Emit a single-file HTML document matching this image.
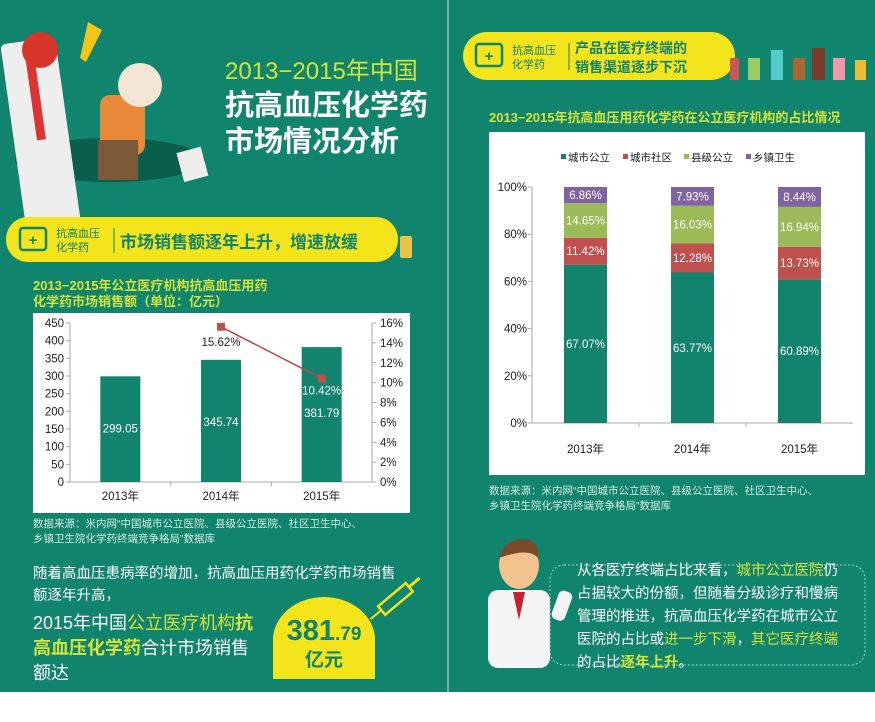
<!DOCTYPE html>
<html><head><meta charset="utf-8">
<style>
html,body{margin:0;padding:0;width:875px;height:722px;overflow:hidden;background:#fff;}
svg{display:block;font-family:"Liberation Sans","Noto Sans CJK SC",sans-serif;}
</style></head>
<body>
<svg id="root" width="875" height="722" viewBox="0 0 875 722" xmlns="http://www.w3.org/2000/svg">
<rect x="0" y="0" width="875" height="692" fill="#10846d"/>
<line x1="448" y1="0" x2="448" y2="692" stroke="#cfe3dc" stroke-width="1"/>

<g>
  <ellipse cx="110" cy="160" rx="95" ry="22" fill="#0b5e4c"/>
  <rect x="14" y="40" width="55" height="210" rx="5" fill="#eee" transform="rotate(-8 40 140)"/>
  <rect x="37" y="50" width="9" height="90" fill="#d33" transform="rotate(-8 40 140)"/>
  <circle cx="40" cy="50" r="18" fill="#d8352a"/>
  <polygon points="88,22 102,30 86,62 80,58" fill="#f5c518"/>
  <rect x="100" y="95" width="45" height="60" rx="10" fill="#e98a3a"/>
  <rect x="98" y="140" width="40" height="40" fill="#7b5a3a"/>
  <circle cx="140" cy="85" r="22" fill="#f3e5d3"/>
  <rect x="180" y="150" width="25" height="30" fill="#eee" transform="rotate(-15 190 165)"/>
</g>
<text x="225" y="79" font-size="24" fill="#d5e43a">2013−2015年中国</text>
<text x="225" y="115" font-size="29" font-weight="bold" fill="#fff">抗高血压化学药</text>
<text x="225" y="151" font-size="29" font-weight="bold" fill="#fff">市场情况分析</text>

<g>
  <rect x="6" y="217" width="392" height="45" rx="22" fill="#f3e41c"/>
  <rect x="20" y="228" width="26" height="22" rx="3" fill="none" stroke="#10846d" stroke-width="2.5"/>
  <text x="33" y="245" font-size="15" font-weight="bold" fill="#10846d" text-anchor="middle">+</text>
  <text x="56" y="237" font-size="11" fill="#10846d">抗高血压</text>
  <text x="56" y="251" font-size="11" fill="#10846d">化学药</text>
  <line x1="114" y1="228" x2="114" y2="253" stroke="#10846d"/>
  <text x="120" y="248" font-size="17" font-weight="bold" fill="#10846d">市场销售额逐年上升，增速放缓</text>
  <rect x="400" y="236" width="12" height="22" rx="2" fill="#e8c44a"/>
</g>
<text x="33" y="290" font-size="13" font-weight="bold" fill="#d5e43a">2013−2015年公立医疗机构抗高血压用药</text>
<text x="33" y="306" font-size="13" font-weight="bold" fill="#d5e43a">化学药市场销售额（单位：亿元）</text>
<rect x="33" y="313" width="377" height="200" fill="#fff"/>
<g id="leftChart"></g>

<text x="33" y="527" font-size="10.5" fill="#d6ece5">数据来源：米内网“中国城市公立医院、县级公立医院、社区卫生中心、</text>
<text x="33" y="542" font-size="10.5" fill="#d6ece5">乡镇卫生院化学药终端竞争格局”数据库</text>
<text x="33" y="578" font-size="14.5" fill="#fff">随着高血压患病率的增加，抗高血压用药化学药市场销售</text>
<text x="33" y="600" font-size="14.5" fill="#fff">额逐年升高，</text>
<text x="33" y="629" font-size="18" fill="#fff">2015年中国<tspan fill="#d5e43a">公立医疗机构</tspan><tspan fill="#d5e43a" font-weight="bold">抗</tspan></text>
<text x="33" y="654" font-size="18" fill="#fff"><tspan fill="#d5e43a" font-weight="bold">高血压化学药</tspan>合计市场销售</text>
<text x="33" y="679" font-size="18" fill="#fff">额达</text>
<g>
  <path d="M273,679 L273,640 A51,43 0 0,1 375,640 L375,679 Z" fill="#f3e41c"/>
  <text x="324" y="640" font-size="29" font-weight="bold" fill="#10846d" text-anchor="middle">381<tspan font-size="19">.79</tspan></text>
  <text x="324" y="666" font-size="19" font-weight="bold" fill="#10846d" text-anchor="middle">亿元</text>
  <g transform="rotate(-40 395 600)"><rect x="378" y="594" width="36" height="11" fill="none" stroke="#f3e41c" stroke-width="2.5"/><line x1="414" y1="599" x2="428" y2="599" stroke="#f3e41c" stroke-width="3"/><line x1="364" y1="599" x2="378" y2="599" stroke="#f3e41c" stroke-width="2"/></g>
</g>

<g>
  <rect x="463" y="32" width="272" height="48" rx="24" fill="#f3e41c"/>
  <rect x="476" y="44" width="26" height="22" rx="3" fill="none" stroke="#10846d" stroke-width="2.5"/>
  <text x="489" y="61" font-size="15" font-weight="bold" fill="#10846d" text-anchor="middle">+</text>
  <text x="512" y="54" font-size="11" fill="#10846d">抗高血压</text>
  <text x="512" y="68" font-size="11" fill="#10846d">化学药</text>
  <line x1="569" y1="43" x2="569" y2="70" stroke="#10846d"/>
  <text x="575" y="53" font-size="14" font-weight="bold" fill="#10846d">产品在医疗终端的</text>
  <text x="575" y="72" font-size="14" font-weight="bold" fill="#10846d">销售渠道逐步下沉</text>
</g>
<g>
  <rect x="730" y="58" width="9" height="22" fill="#c55"/>
  <rect x="748" y="58" width="12" height="22" fill="#9c6"/>
  <rect x="771" y="50" width="12" height="30" fill="#5cc"/>
  <rect x="793" y="58" width="12" height="22" fill="#a63"/>
  <rect x="812" y="48" width="13" height="32" fill="#7b3b2a"/>
  <rect x="833" y="58" width="12" height="22" fill="#e9a"/>
  <rect x="855" y="60" width="11" height="20" fill="#eb3"/>
</g>
<text x="489" y="122" font-size="13" font-weight="bold" fill="#d5e43a">2013−2015年抗高血压用药化学药在公立医疗机构的占比情况</text>
<rect x="489" y="132" width="376" height="343" fill="#fff"/>
<g id="rightChart"></g>
<text x="489" y="494" font-size="10.5" fill="#d6ece5">数据来源：米内网“中国城市公立医院、县级公立医院、社区卫生中心、</text>
<text x="489" y="509" font-size="10.5" fill="#d6ece5">乡镇卫生院化学药终端竞争格局”数据库</text>

<g>
  <rect x="488" y="590" width="62" height="78" rx="10" fill="#f4f4f4"/>
  <polygon points="513,592 525,592 519,620" fill="#c8202a"/>
  <ellipse cx="519" cy="565" rx="20" ry="24" fill="#f2c28f"/>
  <path d="M499,558 Q505,536 530,540 Q540,545 538,558 Q530,548 505,556 Z" fill="#7a4a2a"/>
  <rect x="555" y="590" width="14" height="30" rx="5" fill="#f4f4f4" transform="rotate(20 560 605)"/>
</g>
<rect x="550" y="565" width="315" height="100" rx="14" fill="none" stroke="#9fd0c2" stroke-dasharray="2,2"/>
<g font-size="14.5" fill="#fff">
  <text x="577" y="575">从各医疗终端占比来看，<tspan fill="#d5e43a">城市公立医院</tspan>仍</text>
  <text x="577" y="598">占据较大的份额，但随着分级诊疗和慢病</text>
  <text x="577" y="621">管理的推进，抗高血压化学药在城市公立</text>
  <text x="577" y="644">医院的占比或<tspan fill="#d5e43a">进一步下滑</tspan>，<tspan fill="#d5e43a">其它医疗终端</tspan></text>
  <text x="577" y="667">的占比<tspan fill="#d5e43a" font-weight="bold">逐年上升</tspan>。</text>
</g>
</svg>
<script>
const NS="http://www.w3.org/2000/svg";
function mk(parent,tag,attrs,text){const e=document.createElementNS(NS,tag);for(const k in attrs)e.setAttribute(k,attrs[k]);if(text!==undefined)e.textContent=text;parent.appendChild(e);return e;}

const leftCategories=["2013年","2014年","2015年"];
const leftSales=[299.05,345.74,381.79];
const leftGrowth=[null,15.62,10.42];
const leftYTicks=[0,50,100,150,200,250,300,350,400,450];
const leftY2Ticks=[0,2,4,6,8,10,12,14,16];

const rightCategories=["2013年","2014年","2015年"];
const seriesNames=["城市公立","城市社区","县级公立","乡镇卫生"];
const cityPublic=[67.07,63.77,60.89];
const cityCommunity=[11.42,12.28,13.73];
const countyPublic=[14.65,16.03,16.94];
const townHealth=[6.86,7.93,8.44];
const rightYTicks=[0,20,40,60,80,100];

(function(){
 const g=document.getElementById('leftChart');
 const x0=70,x1=372,y0=482,yTop=323;
 const ys=v=>y0-(v/450)*(y0-yTop);
 const y2=v=>y0-(v/16)*(y0-yTop);
 const bw=(x1-x0)/leftCategories.length;
 const xc=i=>x0+bw*(i+0.5);
 let ax=mk(g,'line',{x1:x0,y1:yTop,x2:x0,y2:y0,stroke:'#aaa'});
 
 let ax2=mk(g,'line',{x1:x1,y1:yTop,x2:x1,y2:y0,stroke:'#aaa'});
 
 let xa=mk(g,'line',{x1:x0,y1:y0,x2:x1,y2:y0,stroke:'#aaa'});
 
 leftYTicks.forEach(t=>{const y=ys(t);mk(g,'line',{x1:x0-4,y1:y,x2:x0,y2:y,stroke:'#aaa'});
  const l=mk(g,'text',{x:x0-6,y:y+4,'font-size':11.5,'text-anchor':'end',fill:'#222'},t);
  });
 leftY2Ticks.forEach(t=>{const y=y2(t);mk(g,'line',{x1:x1,y1:y,x2:x1+4,y2:y,stroke:'#aaa'});
  const l=mk(g,'text',{x:x1+8,y:y+4,'font-size':11.5,fill:'#222'},t+'%');
  });
 leftCategories.forEach((c,i)=>{
  const b=mk(g,'rect',{x:xc(i)-20,y:ys(leftSales[i]),width:40,height:y0-ys(leftSales[i]),fill:'#12836c'});
  
  const v=mk(g,'text',{x:xc(i),y:ys(leftSales[i])+(i==0?56:i==1?66:70),'font-size':11.5,fill:'#fff','text-anchor':'middle'},leftSales[i].toFixed(2));
  
  const xl=mk(g,'text',{x:xc(i),y:500,'font-size':11.5,fill:'#222','text-anchor':'middle'},c);
  
  if(i>0)mk(g,'line',{x1:x0+bw*i,y1:y0,x2:x0+bw*i,y2:y0+4,stroke:'#aaa'});
 });
 const pts=leftGrowth.map((v,i)=>v==null?null:[xc(i),y2(v)]).filter(p=>p);
 const pl=mk(g,'polyline',{points:pts.map(p=>p.join(',')).join(' '),fill:'none',stroke:'#b5473f','stroke-width':1.5});
 
 leftGrowth.forEach((v,i)=>{if(v==null)return;
  const m=mk(g,'rect',{x:xc(i)-4,y:y2(v)-4,width:8,height:8,fill:'#c0504d'});
  
  const l=mk(g,'text',{x:xc(i),y:y2(v)+(i==1?19:16),'font-size':11.5,fill:i==1?'#222':'#fff','text-anchor':'middle'},v.toFixed(2)+'%');
  
 });
})();

(function(){
 const g=document.getElementById('rightChart');
 const x0=532,x1=853,y0=423,yTop=187;
 const ys=v=>y0-(v/100)*(y0-yTop);
 const bw=(x1-x0)/rightCategories.length;
 const xc=i=>x0+bw*(i+0.5);
 const series=[cityPublic,cityCommunity,countyPublic,townHealth];
 const colors=['#12836c','#c0504d','#9bbb59','#8064a2'];
 const ax=mk(g,'line',{x1:x0,y1:yTop,x2:x0,y2:y0,stroke:'#aaa'});
 
 const xa=mk(g,'line',{x1:x0,y1:y0,x2:x1,y2:y0,stroke:'#aaa'});
 
 rightYTicks.forEach(t=>{const y=ys(t);mk(g,'line',{x1:x0-4,y1:y,x2:x0,y2:y,stroke:'#aaa'});
  const l=mk(g,'text',{x:x0-5,y:y+4,'font-size':11.5,'text-anchor':'end',fill:'#222'},t+'%');
  });
 rightCategories.forEach((c,i)=>{
  let acc=0;
  series.forEach((s,k)=>{
   const yb=ys(acc),yt=ys(acc+s[i]);acc+=s[i];
   const r=mk(g,'rect',{x:xc(i)-21.5,y:yt,width:43,height:yb-yt,fill:colors[k]});
   
   const l=mk(g,'text',{x:xc(i),y:(yt+yb)/2+4,'font-size':11.5,fill:'#fff','text-anchor':'middle'},s[i].toFixed(2)+'%');
   
  });
  const xl=mk(g,'text',{x:xc(i),y:453,'font-size':11.5,fill:'#222','text-anchor':'middle'},c);
  
  if(i>0)mk(g,'line',{x1:x0+bw*i,y1:y0,x2:x0+bw*i,y2:y0+4,stroke:'#aaa'});
 });
 const lx=[561,623,684,746];
 seriesNames.forEach((n,k)=>{
  const r=mk(g,'rect',{x:lx[k],y:154,width:5,height:5,fill:colors[k]});
  
  const t=mk(g,'text',{x:lx[k]+7,y:161,'font-size':10.5,fill:'#222'},n);
  
 });
})();
</script>
</body></html>
